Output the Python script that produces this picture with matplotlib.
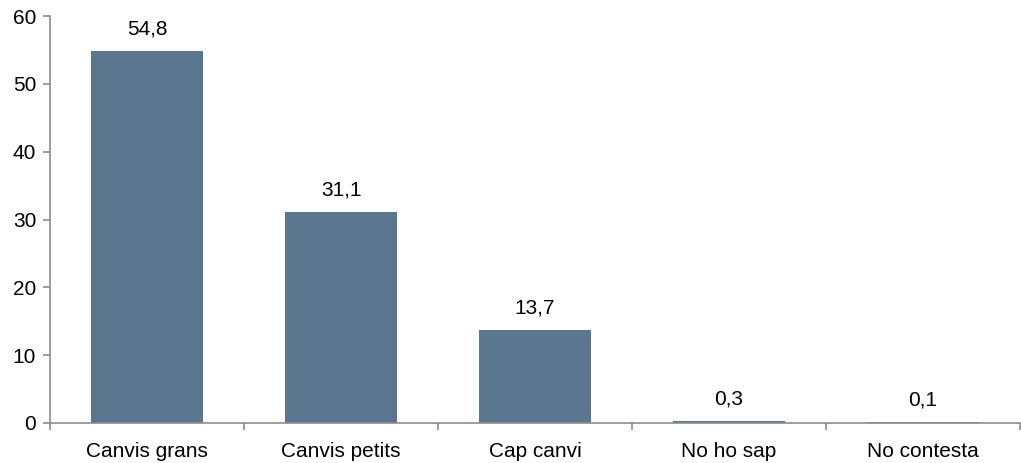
import numpy as np
import matplotlib.pyplot as plt

# dades
categories = ['Canvis grans', 'Canvis petits', 'Cap canvi', 'No ho sap', 'No contesta']
values = [54.8, 31.1, 13.7, 0.3, 0.1]
labels = ['54,8', '31,1', '13,7', '0,3', '0,1']

plt.rcParams['font.family'] = ['Liberation Sans', 'DejaVu Sans']

fig = plt.figure(figsize=(10.21, 4.63), dpi=100)
ax = fig.add_axes([0.049, 0.0864, 0.950, 0.879])

x = np.arange(len(categories))
ax.bar(x, values, width=0.58, color='#5B7790')

for xi, v, lab in zip(x, values, labels):
    ax.annotate(lab, (xi, v), xytext=(0, 9), textcoords='offset points',
                ha='center', va='bottom', fontsize=15)

ax.set_xlim(-0.5, len(categories) - 0.5)
ax.set_ylim(0, 60)
ax.set_yticks(range(0, 61, 10))
ax.set_xticks(x)
ax.set_xticklabels(categories)
ax.set_xticks(np.arange(-0.5, len(categories), 1), minor=True)

for s in ['top', 'right']:
    ax.spines[s].set_visible(False)
for s in ['left', 'bottom']:
    ax.spines[s].set_color('#8C8C8C')
    ax.spines[s].set_linewidth(1.2)

ax.tick_params(axis='x', which='major', length=0, labelsize=15, pad=14)
ax.tick_params(axis='x', which='minor', length=5, color='#8C8C8C', width=1.2)
ax.tick_params(axis='y', length=5, color='#8C8C8C', width=1.2, labelsize=15, pad=5)

fig.savefig('out.png', dpi=100)
